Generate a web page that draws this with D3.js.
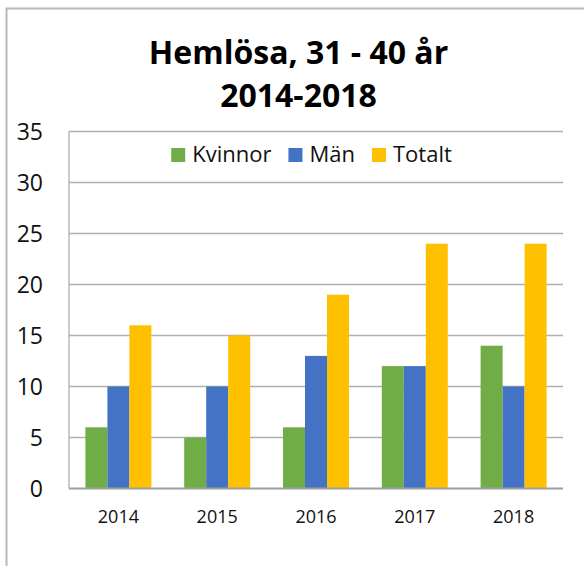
<!DOCTYPE html>
<html>
<head>
<meta charset="utf-8">
<script src="https://cdn.jsdelivr.net/npm/d3@7"></script>
<style>
  body { margin: 0; background: #fff; }
  text { font-family: "Open Sans", sans-serif; fill: #111; }
  .title { font-weight: bold; font-size: 32px; fill: #000; }
  .grid line { stroke: #b0b0b0; stroke-width: 1.3; }
</style>
</head>
<body>
<svg id="chart"></svg>
<script>
// data
const years = ["2014", "2015", "2016", "2017", "2018"];
const seriesNames = ["Kvinnor", "Män", "Totalt"];
const kvinnor = [6, 5, 6, 12, 14];
const man = [10, 10, 13, 12, 10];
const totalt = [16, 15, 19, 24, 24];
const yTicks = [0, 5, 10, 15, 20, 25, 30, 35];
const colors = ["#70AD47", "#4472C4", "#FFC000"];
const titleLines = ["Hemlösa, 31 - 40 år", "2014-2018"];

const width = 584, height = 566;
const margin = {top: 131.5, right: 21, bottom: 77.5, left: 69};
const innerW = width - margin.left - margin.right;
const innerH = height - margin.top - margin.bottom;

const svg = d3.select("#chart")
    .attr("width", width)
    .attr("height", height);

// outer frame (cut off on right and bottom like the reference)
svg.append("rect")
    .attr("x", 6.5).attr("y", 8.5)
    .attr("width", 620).attr("height", 620)
    .attr("fill", "none")
    .attr("stroke", "#b8b8b8")
    .attr("stroke-width", 2);

// title
svg.selectAll(".title")
    .data(titleLines)
    .join("text")
    .attr("class", "title")
    .attr("x", 298.5)
    .attr("y", (d, i) => 63.5 + i * 43)
    .attr("text-anchor", "middle")
    .text(d => d);

const chart = svg.append("g")
    .attr("transform", `translate(${margin.left},${margin.top})`);

const x0 = d3.scaleBand().domain(years).range([0, innerW])
    .paddingInner(0.332).paddingOuter(0.166);
const x1 = d3.scaleBand().domain(seriesNames).range([0, x0.bandwidth()]);
const y = d3.scaleLinear().domain([0, 35]).range([innerH, 0]);

// gridlines
chart.append("g")
    .attr("class", "grid")
    .selectAll("line")
    .data(yTicks.filter(t => t > 0))
    .join("line")
    .attr("x1", 0).attr("x2", innerW)
    .attr("y1", d => y(d)).attr("y2", d => y(d));

// left axis line
chart.append("line")
    .attr("x1", 0).attr("x2", 0)
    .attr("y1", y(35)).attr("y2", y(0))
    .attr("stroke", "#b0b0b0").attr("stroke-width", 1.3);

// y labels
chart.selectAll(".ylab")
    .data(yTicks)
    .join("text")
    .attr("class", "ylab")
    .attr("x", -26)
    .attr("y", d => y(d))
    .attr("dy", "0.36em")
    .attr("text-anchor", "end")
    .style("font-size", "23px")
    .text(d => d);

// bars
const seriesData = [kvinnor, man, totalt];
const groups = chart.selectAll(".year")
    .data(years)
    .join("g")
    .attr("class", "year")
    .attr("transform", d => `translate(${x0(d)},0)`);

groups.selectAll("rect")
    .data((d, i) => seriesNames.map((s, j) => ({s, v: seriesData[j][i], c: colors[j]})))
    .join("rect")
    .attr("x", d => x1(d.s))
    .attr("width", x1.bandwidth())
    .attr("y", d => y(d.v))
    .attr("height", d => y(0) - y(d.v))
    .attr("fill", d => d.c);

// baseline
chart.append("line")
    .attr("x1", 0).attr("x2", innerW)
    .attr("y1", y(0)).attr("y2", y(0))
    .attr("stroke", "#a0a0a0").attr("stroke-width", 2);

// x labels
chart.selectAll(".xlab")
    .data(years)
    .join("text")
    .attr("class", "xlab")
    .attr("x", d => x0(d) + x0.bandwidth() / 2)
    .attr("y", innerH + 34)
    .attr("text-anchor", "middle")
    .style("font-size", "18px")
    .text(d => d);

// legend
const legend = svg.append("g");
const items = legend.selectAll("g")
    .data(seriesNames)
    .join("g");
items.append("rect")
    .attr("width", 14).attr("height", 14)
    .attr("y", 148)
    .attr("fill", (d, i) => colors[i]);
items.append("text")
    .attr("x", 21)
    .attr("y", 162)
    .style("font-size", "22px")
    .text(d => d);

let offs = [];
let cur = 0;
items.each(function() {
  offs.push(cur);
  cur += 21 + this.querySelector("text").getComputedTextLength() + 17;
});
const total = cur - 17;
const start = 311.5 - total / 2;
items.attr("transform", (d, i) => `translate(${start + offs[i]},0)`);
</script>
</body>
</html>
